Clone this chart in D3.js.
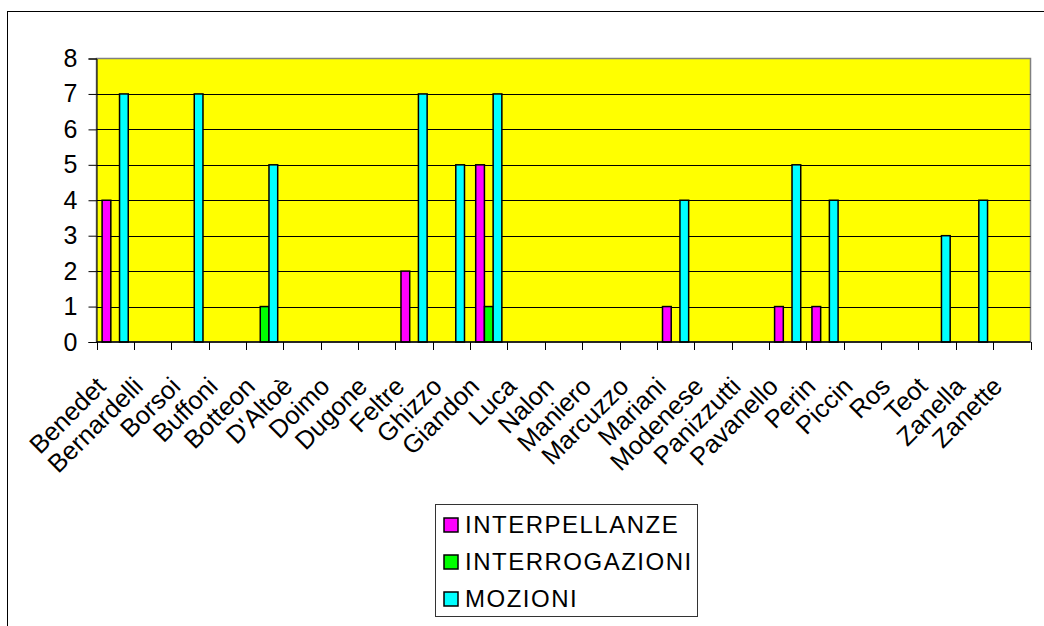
<!DOCTYPE html>
<html>
<head>
<meta charset="utf-8">
<script src="https://cdn.jsdelivr.net/npm/d3@7"></script>
<style>
  body { margin: 0; background: #fff; }
  svg { display: block; font-family: "Liberation Sans", Arial, sans-serif; }
</style>
</head>
<body>
<svg id="chart" width="1044" height="626"></svg>
<script>
const categories = ['Benedet', 'Bernardelli', 'Borsoi', 'Buffoni', 'Botteon', "D'Altoè", 'Doimo', 'Dugone',
  'Feltre', 'Ghizzo', 'Giandon', 'Luca', 'Nalon', 'Maniero', 'Marcuzzo', 'Mariani', 'Modenese',
  'Panizzutti', 'Pavanello', 'Perin', 'Piccin', 'Ros', 'Teot', 'Zanella', 'Zanette'];
const interpellanze  = [4, 0, 0, 0, 0, 0, 0, 0, 2, 0, 5, 0, 0, 0, 0, 1, 0, 0, 1, 1, 0, 0, 0, 0, 0];
const interrogazioni = [0, 0, 0, 0, 1, 0, 0, 0, 0, 0, 1, 0, 0, 0, 0, 0, 0, 0, 0, 0, 0, 0, 0, 0, 0];
const mozioni        = [7, 0, 7, 0, 5, 0, 0, 0, 7, 5, 7, 0, 0, 0, 0, 4, 0, 0, 5, 4, 0, 0, 3, 4, 0];
const yTicks = [0, 1, 2, 3, 4, 5, 6, 7, 8];

const series = [
  { name: 'INTERPELLANZE', values: interpellanze, color: '#ff00ff' },
  { name: 'INTERROGAZIONI', values: interrogazioni, color: '#00ff00' },
  { name: 'MOZIONI', values: mozioni, color: '#00ffff' }
];

const svg = d3.select('#chart');
const plotLeft = 96.5, plotRight = 1030.5, plotTop = 58.5, plotBottom = 342;

// outer chart frame (runs off the right/bottom edge)
svg.append('rect').attr('x', 7.5).attr('y', 11.5).attr('width', 1200).attr('height', 800)
  .attr('fill', 'none').attr('stroke', '#000');

const x = d3.scaleBand().domain(categories).range([plotLeft, plotRight]).padding(0);
const x1 = d3.scaleBand().domain(series.map(s => s.name))
  .range([x.bandwidth() * 0.15, x.bandwidth() * 0.85]).padding(0);
const y = d3.scaleLinear().domain([0, 8]).range([plotBottom, plotTop]);

// plot area
svg.append('rect').attr('x', plotLeft).attr('y', plotTop)
  .attr('width', plotRight - plotLeft).attr('height', plotBottom - plotTop)
  .attr('fill', '#ffff00').attr('stroke', '#808080').attr('stroke-width', 1.5);

svg.append('g').selectAll('line').data(yTicks.slice(1, -1)).enter().append('line')
  .attr('x1', plotLeft).attr('x2', plotRight)
  .attr('y1', d => Math.round(y(d)) + 0.5).attr('y2', d => Math.round(y(d)) + 0.5)
  .attr('stroke', '#000');

// bars
const groups = svg.append('g').selectAll('g').data(series).enter().append('g');
groups.selectAll('rect')
  .data(s => s.values.map((v, i) => ({ v, c: categories[i], s })).filter(d => d.v > 0))
  .enter().append('rect')
  .attr('x', d => x(d.c) + x1(d.s.name))
  .attr('y', d => y(d.v))
  .attr('width', x1.bandwidth())
  .attr('height', d => y(0) - y(d.v))
  .attr('fill', d => d.s.color)
  .attr('stroke', '#000').attr('stroke-width', 1.5);

// y axis
const yAxis = svg.append('g').attr('transform', `translate(${plotLeft},0)`)
  .call(d3.axisLeft(y).tickValues(yTicks).tickSize(8).tickPadding(11).tickFormat(d3.format('d')));
yAxis.select('.domain').attr('stroke', '#000');
yAxis.selectAll('.tick line').attr('stroke', '#000');
yAxis.selectAll('text').attr('font-size', 25).attr('fill', '#000').attr('font-family', null);

// x axis
svg.append('line').attr('x1', plotLeft).attr('x2', plotRight).attr('y1', plotBottom).attr('y2', plotBottom)
  .attr('stroke', '#000').attr('stroke-width', 1.5);
const bounds = categories.map(c => x(c)).concat([plotRight]);
svg.append('g').selectAll('line').data(bounds).enter().append('line')
  .attr('x1', d => Math.round(d) + 0.5).attr('x2', d => Math.round(d) + 0.5)
  .attr('y1', plotBottom).attr('y2', plotBottom + 8).attr('stroke', '#000');

svg.append('g').selectAll('text').data(categories).enter().append('text')
  .attr('transform', d => `translate(${x(d) + x.bandwidth() / 2 - 8},${plotBottom + 46}) rotate(-45)`)
  .attr('text-anchor', 'end').attr('font-size', 25.5).attr('fill', '#000')
  .text(d => d);

// legend
const legend = svg.append('g');
legend.append('rect').attr('x', 435.5).attr('y', 504.5).attr('width', 262).attr('height', 112)
  .attr('fill', '#fff').attr('stroke', '#333');
const items = legend.selectAll('g').data(series).enter().append('g')
  .attr('transform', (d, i) => `translate(444,${525 + i * 37})`);
items.append('rect').attr('x', 0).attr('y', -7).attr('width', 14).attr('height', 14)
  .attr('fill', d => d.color).attr('stroke', '#000').attr('stroke-width', 1.5);
items.append('text').attr('x', 21).attr('y', 0).attr('dy', '0.35em')
  .attr('font-size', 24).attr('letter-spacing', 1.5).attr('fill', '#000').text(d => d.name);
</script>
</body>
</html>
